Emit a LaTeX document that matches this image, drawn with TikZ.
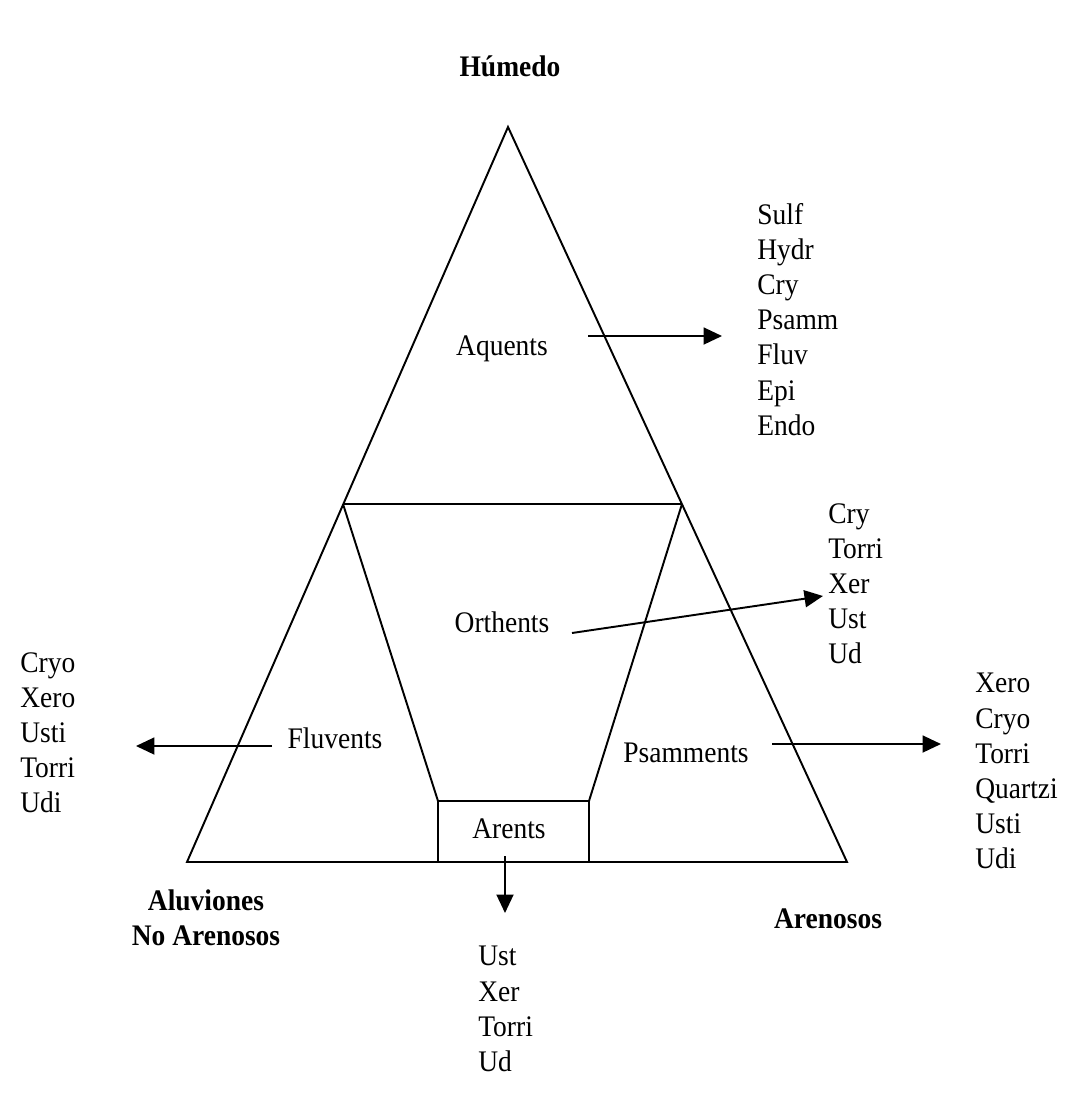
\documentclass[tikz,border=0pt]{standalone}
\usepackage{fontspec}
\setmainfont{Liberation Serif}[FakeStretch=0.92]
\usetikzlibrary{arrows.meta}

\tikzset{
  linea/.style={black, line width=1.1pt},
  flecha/.style={black, line width=1.1pt, -{Triangle[length=0.37cm,width=0.34cm]}},
  etiq/.style={font=\fontsize{17}{20}\selectfont, inner sep=0pt},
  negrita/.style={font=\bfseries\fontsize{17}{20}\selectfont, inner sep=0pt, align=center},
  lista/.style={etiq, align=left, anchor=north west}
}

\begin{document}
\begin{tikzpicture}[x=0.02cm, y=-0.02cm]
\useasboundingbox (0,0) rectangle (1086,1117);
\fill[white] (0,0) rectangle (1086,1117);
% esquinas del triangulo
\coordinate (apice) at (508,127);
\coordinate (izq) at (187,862);
\coordinate (der) at (847,862);
\coordinate (mizq) at (343,504);
\coordinate (mder) at (682,504);
\coordinate (bizq) at (438,862);
\coordinate (bder) at (589,862);
\coordinate (cizq) at (438,801);
\coordinate (cder) at (589,801);

\draw[linea] (apice) -- (der) -- (izq) -- cycle;
\draw[linea] (mizq) -- (mder);
\draw[linea] (mizq) -- (cizq);
\draw[linea] (mder) -- (cder);
\draw[linea] (bizq) -- (cizq) -- (cder) -- (bder);

% vertices
\node[negrita] (humedo) at (510,66) {Húmedo};
\node[negrita] (aluviones) at (206,918) {Aluviones\\No Arenosos};
\node[negrita] (arenosos) at (828,919) {Arenosos};

% subordenes
\node[etiq] (aquents) at (502,349) {Aquents};
\node[etiq] (orthents) at (502,622) {Orthents};
\node[etiq] (fluvents) at (335,738) {Fluvents};
\node[etiq] (psamments) at (686,753) {Psamments};
\node[etiq] (arents) at (509,829) {Arents};

% grandes grupos
\node[lista] (l-aquents) at (757,203) {Sulf\\Hydr\\Cry\\Psamm\\Fluv\\Epi\\Endo};
\node[lista] (l-orthents) at (828,503) {Cry\\Torri\\Xer\\Ust\\Ud};
\node[lista] (l-fluvents) at (20,652) {Cryo\\Xero\\Usti\\Torri\\Udi};
\node[lista] (l-psamments) at (975,673) {Xero\\Cryo\\Torri\\Quartzi\\Usti\\Udi};
\node[lista] (l-arents) at (478,946) {Ust\\Xer\\Torri\\Ud};

% flechas
\coordinate (aq-a) at (588,336);
\coordinate (aq-b) at (722,336);
\coordinate (or-a) at (572,633);
\coordinate (or-b) at (823,596);
\coordinate (fl-a) at (272,746);
\coordinate (fl-b) at (136,746);
\coordinate (ps-a) at (772,744);
\coordinate (ps-b) at (941,744);
\coordinate (ar-a) at (505,856);
\coordinate (ar-b) at (505,913);
\draw[flecha] (aq-a) -- (aq-b);
\draw[flecha] (or-a) -- (or-b);
\draw[flecha] (fl-a) -- (fl-b);
\draw[flecha] (ps-a) -- (ps-b);
\draw[flecha] (ar-a) -- (ar-b);
\end{tikzpicture}
\end{document}
